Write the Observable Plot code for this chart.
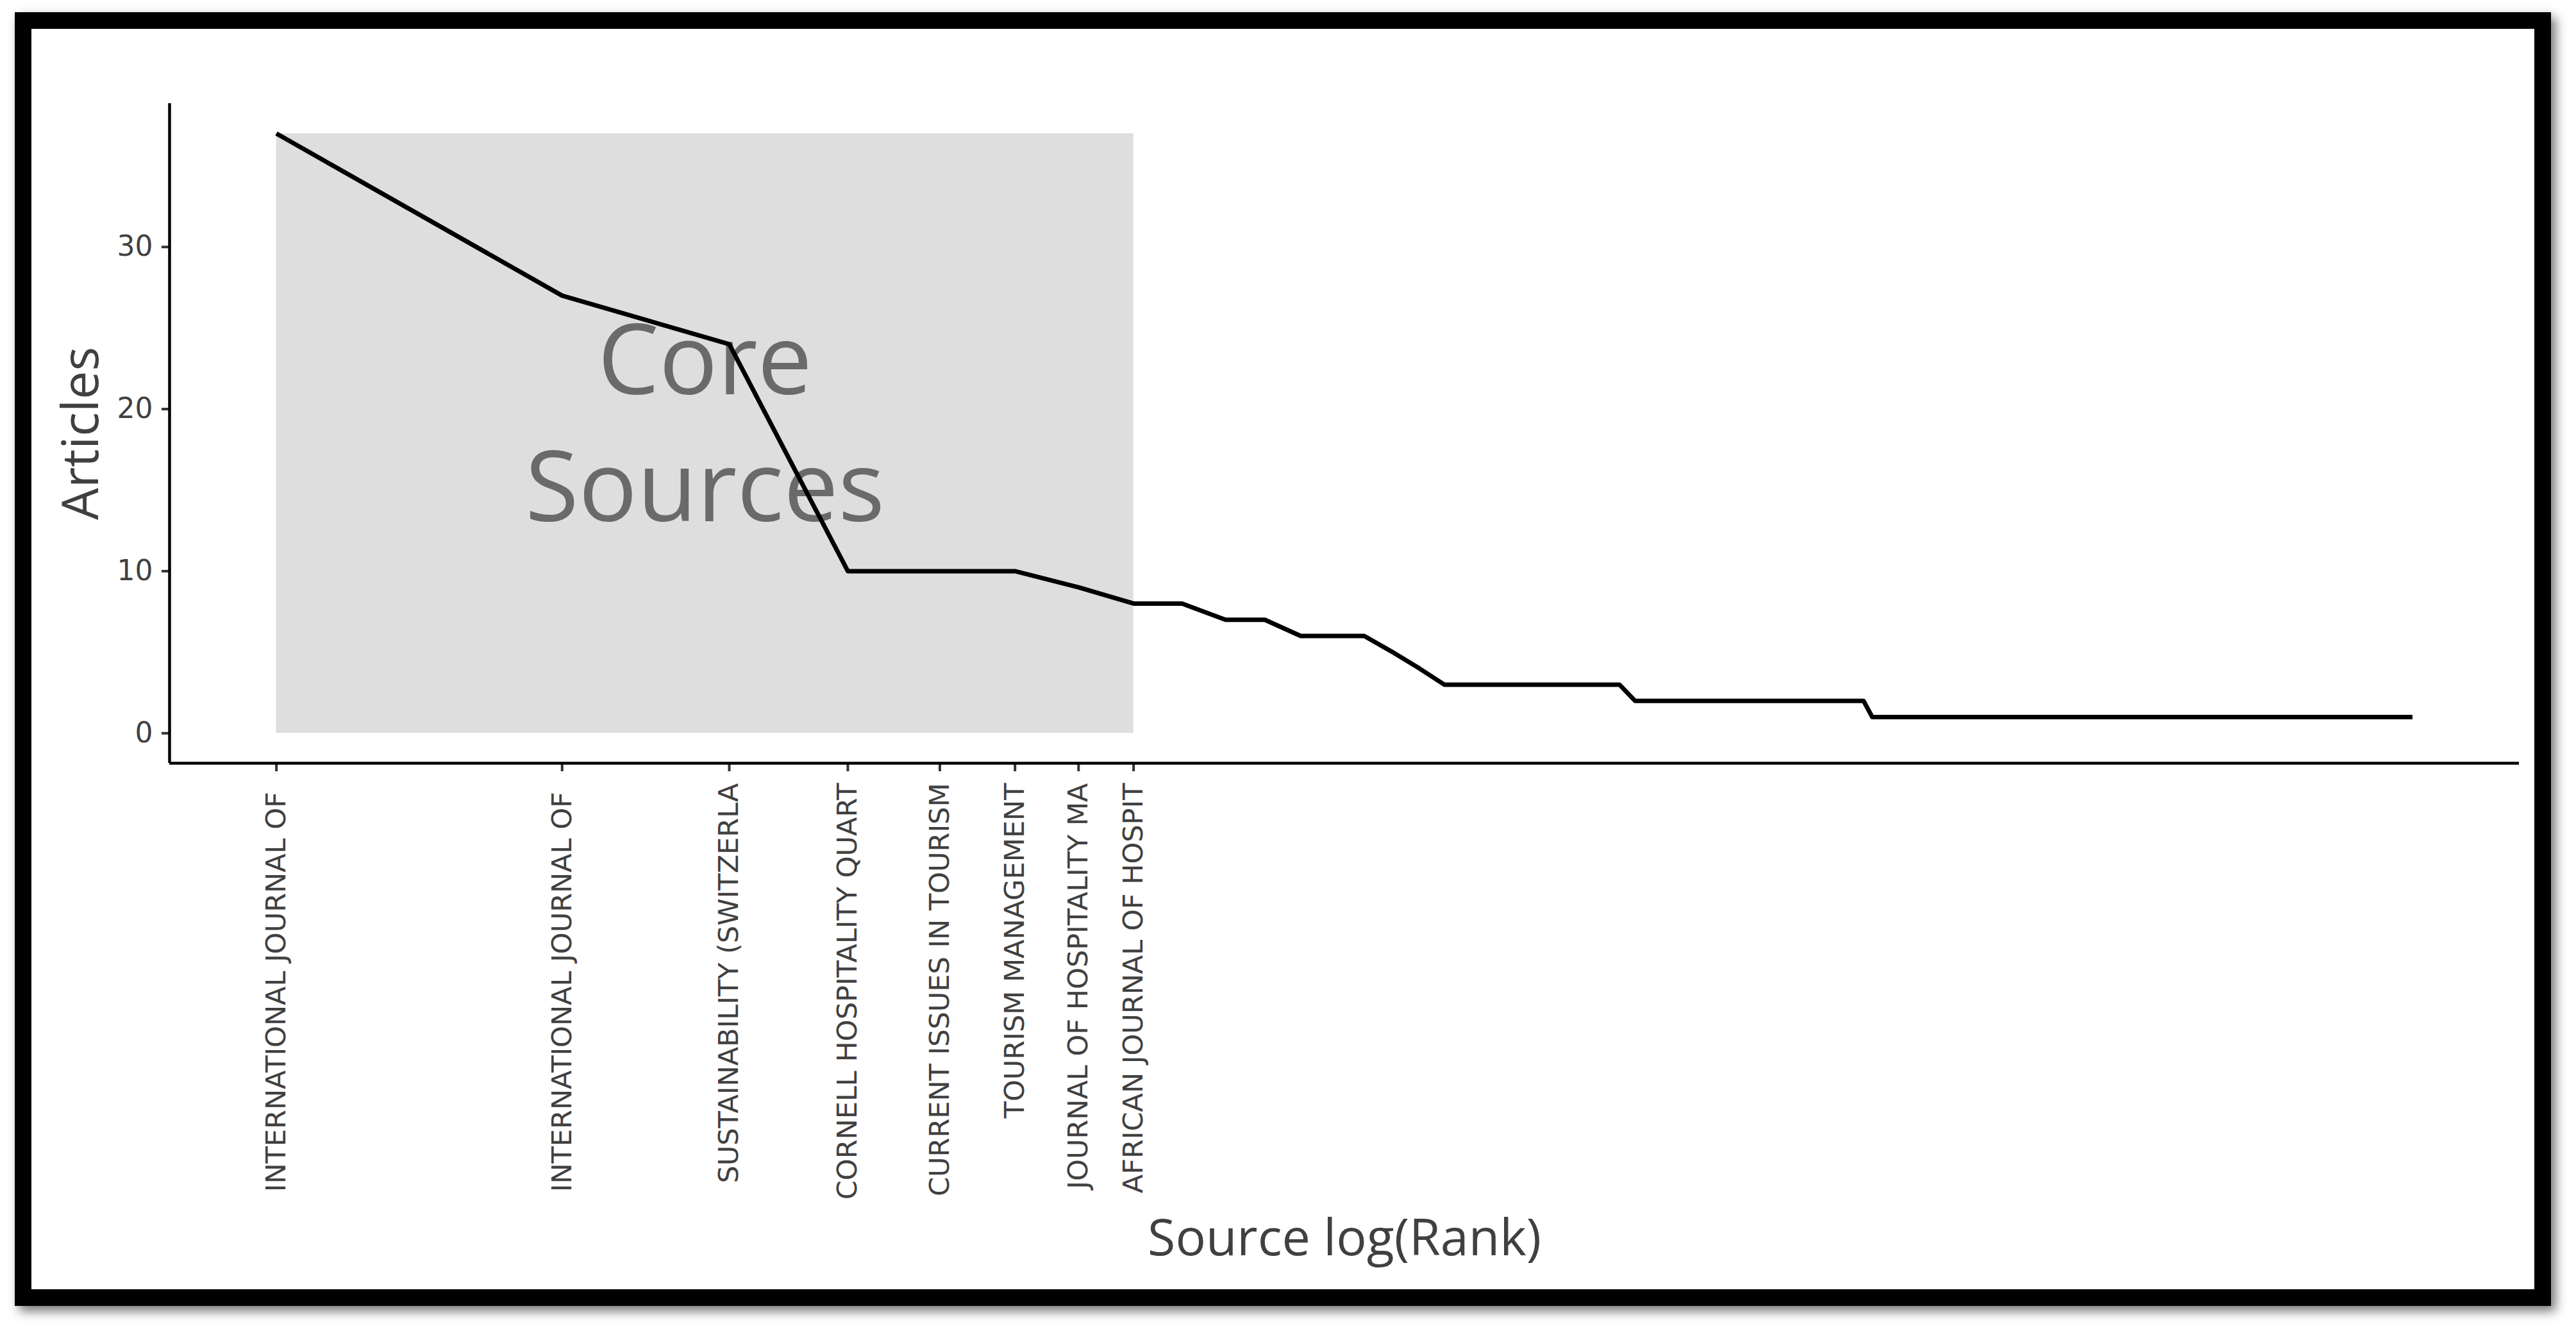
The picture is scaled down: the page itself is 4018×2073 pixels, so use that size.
<!DOCTYPE html>
<html>
<head>
<meta charset="utf-8">
<script src="https://cdn.jsdelivr.net/npm/d3@7"></script>
<script src="https://cdn.jsdelivr.net/npm/@observablehq/plot@0.6"></script>
<style>
  html, body { margin: 0; padding: 0; background: #fff; width: 4018px; height: 2073px; overflow: hidden; }
  #frame { position: absolute; left: 23px; top: 19px; width: 3956px; height: 2018px; box-sizing: border-box;
           border: 26px solid #000; box-shadow: 7px 8px 16px rgba(0,0,0,0.55); background: #fff; }
  #chart { position: absolute; left: 0; top: 0; }
</style>
</head>
<body>
<div id="frame"></div>
<div id="chart"></div>
<script>
// Tick labels of the core sources (truncated source names, as printed)
const sourceLabels = [
  "INTERNATIONAL JOURNAL OF ",
  "INTERNATIONAL JOURNAL OF ",
  "SUSTAINABILITY (SWITZERLA",
  "CORNELL HOSPITALITY QUART",
  "CURRENT ISSUES IN TOURISM",
  "TOURISM MANAGEMENT",
  "JOURNAL OF HOSPITALITY MA",
  "AFRICAN JOURNAL OF HOSPIT"
];

// Articles per source, in rank order (rank 1 ... 178)
const articles = [
  37, 27, 24, 10, 10, 10, 9, 8, 8, 7, 7, 6, 6, 6, 5, 4,
  3, 3, 3, 3, 3, 3, 3, 3, 3, 3,
  2, 2, 2, 2, 2, 2, 2, 2, 2, 2, 2, 2, 2, 2, 2, 2, 2, 2, 2, 2, 2,
  1, 1, 1, 1, 1, 1, 1, 1, 1, 1, 1, 1, 1, 1, 1, 1, 1, 1, 1, 1,
  1, 1, 1, 1, 1, 1, 1, 1, 1, 1, 1, 1, 1, 1, 1, 1, 1, 1, 1, 1,
  1, 1, 1, 1, 1, 1, 1, 1, 1, 1, 1, 1, 1, 1, 1, 1, 1, 1, 1, 1,
  1, 1, 1, 1, 1, 1, 1, 1, 1, 1, 1, 1, 1, 1, 1, 1, 1, 1, 1, 1,
  1, 1, 1, 1, 1, 1, 1, 1, 1, 1, 1, 1, 1, 1, 1, 1, 1, 1, 1, 1,
  1, 1, 1, 1, 1, 1, 1, 1, 1, 1, 1, 1, 1, 1, 1, 1, 1, 1, 1, 1,
  1, 1, 1, 1, 1, 1, 1, 1, 1, 1, 1
];

const coreSources = 8;          // number of sources in Bradford zone 1
const yTicks = [0, 10, 20, 30];
const coreLabel = "Core\nSources";
const xTitle = "Source log(Rank)";
const yTitle = "Articles";

if (articles.length !== 178) throw new Error("articles length " + articles.length);

const W = 4018, H = 2073;
const nSources = articles.length;
const logMax = Math.log(nSources);
const xDom = [-0.05 * logMax, 1.05 * logMax];
const yMax = d3.max(articles);
const yDom = [-0.05 * yMax, 1.05 * yMax];

const lineData = articles.map((n, i) => ({logRank: Math.log(i + 1), n}));
const coreTicks = sourceLabels.map((_, i) => Math.log(i + 1));
const zone = [{x1: 0, x2: Math.log(coreSources), y1: 0, y2: yMax}];
const zoneText = [{x: Math.log(coreSources) / 2, y: yMax / 2, label: coreLabel}];

const labelFor = d => {
  const s = sourceLabels[Math.round(Math.exp(d)) - 1] || "";
  return s.replace(/ $/, "\u00a0");
};

const plot = Plot.plot({
  width: W,
  height: H,
  marginLeft: 264,
  marginRight: 89,
  marginTop: 161,
  marginBottom: 883,
  style: {background: "transparent", overflow: "visible", fontFamily: "DejaVu Sans"},
  x: {type: "linear", domain: xDom, axis: null},
  y: {type: "linear", domain: yDom, axis: null},
  marks: [
    Plot.rect(zone, {x1: "x1", x2: "x2", y1: "y1", y2: "y2", fill: "#dedede"}),
    Plot.text(zoneText, {
      x: "x", y: "y", text: "label",
      fontSize: 152, lineHeight: 1.3, fontFamily: "Open Sans",
      fill: "#6a6a6a", textAnchor: "middle", lineAnchor: "middle", dy: -25
    }),
    Plot.line(lineData, {
      x: "logRank", y: "n", stroke: "#000", strokeWidth: 7,
      strokeLinejoin: "round", strokeLinecap: "butt"
    }),
    Plot.axisY(yTicks, {
      anchor: "left", tickSize: 12, tickPadding: 14, fontSize: 44,
      fontFamily: "DejaVu Sans", fill: "#404040", stroke: "#333", strokeWidth: 4, label: null
    }),
    Plot.axisX(coreTicks, {
      anchor: "bottom", tickSize: 13, tickPadding: 18, tickRotate: -90,
      tickFormat: labelFor, fontSize: 43, fontFamily: "DejaVu Sans",
      fill: "#404040", stroke: "#333", strokeWidth: 4, label: null
    }),
    Plot.ruleX([xDom[0]], {y1: yDom[0], y2: yDom[1], stroke: "#000", strokeWidth: 4.5}),
    Plot.ruleY([yDom[0]], {x1: xDom[0], x2: xDom[1], stroke: "#000", strokeWidth: 4.5}),
    Plot.text([xTitle], {
      text: d => d, frameAnchor: "bottom", dy: 742, fontSize: 79,
      fontFamily: "Open Sans", fill: "#404040", textAnchor: "middle", lineAnchor: "middle"
    }),
    Plot.text([yTitle], {
      text: d => d, frameAnchor: "left", dx: -137, rotate: -90, fontSize: 79,
      fontFamily: "Open Sans", fill: "#404040", textAnchor: "middle", lineAnchor: "middle"
    })
  ]
});

document.getElementById("chart").appendChild(plot);
</script>
</body>
</html>
